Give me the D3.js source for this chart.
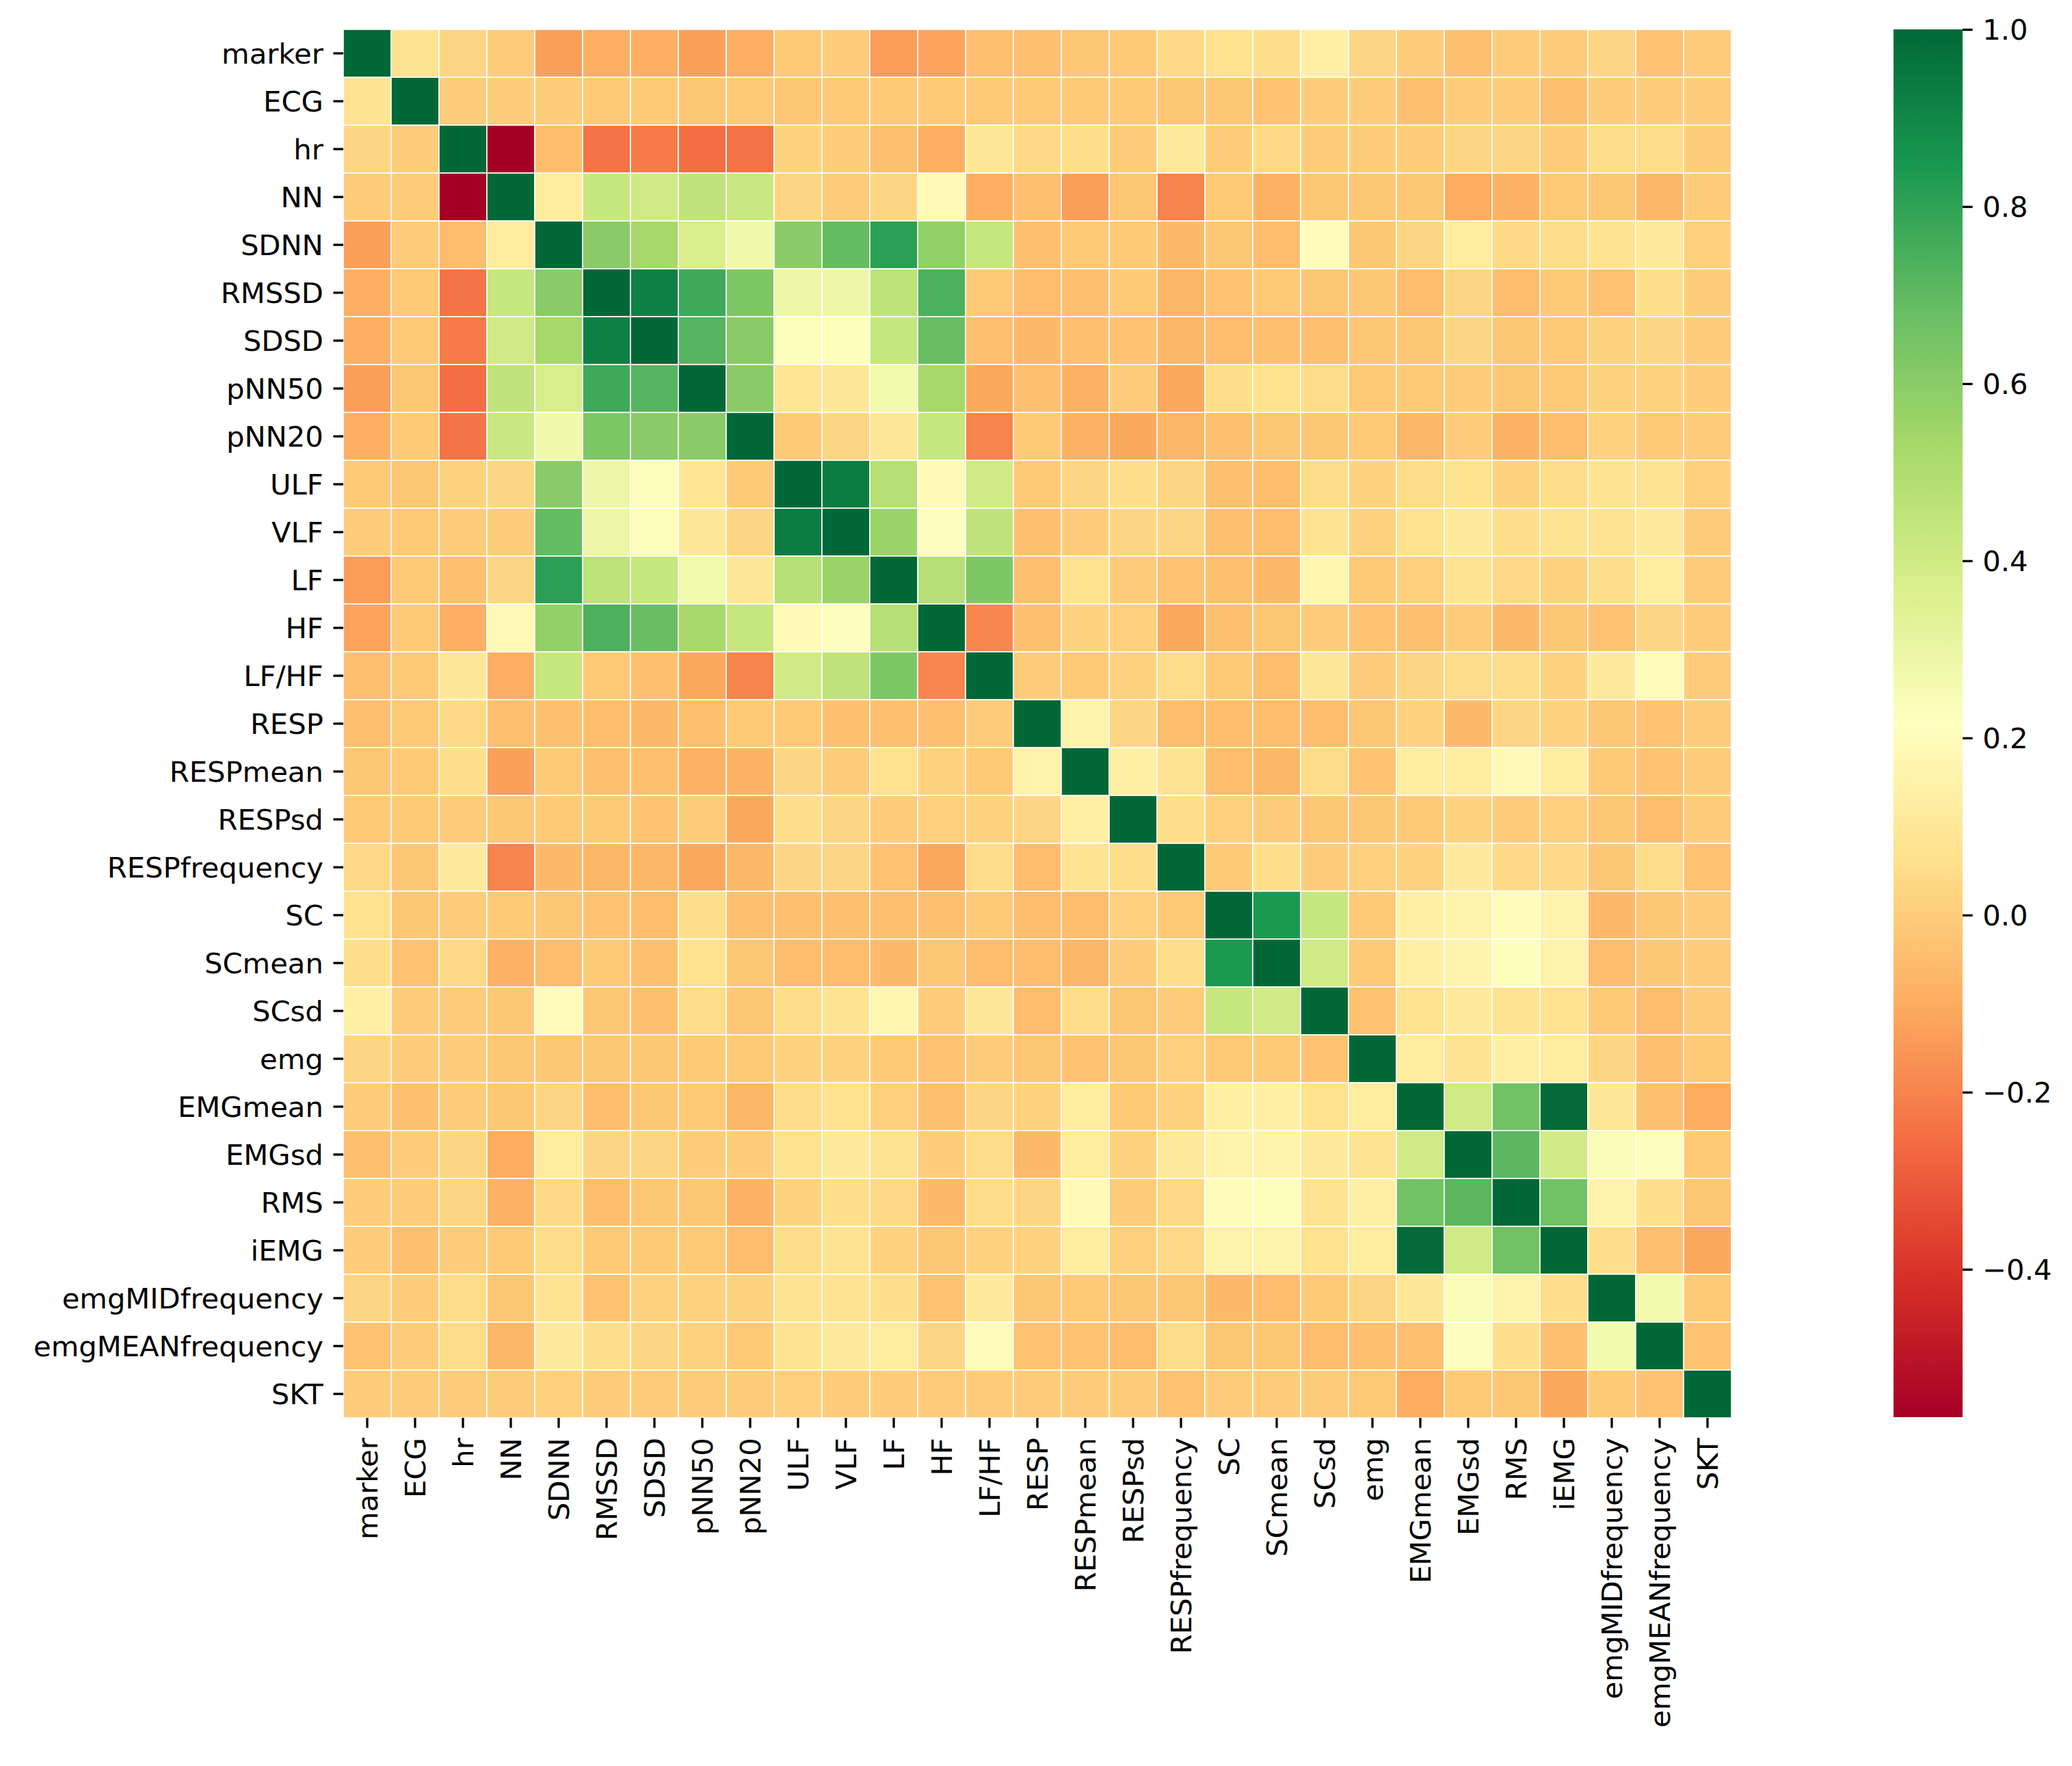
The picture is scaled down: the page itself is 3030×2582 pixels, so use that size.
<!DOCTYPE html>
<html>
<head>
<meta charset="utf-8">
<script src="https://cdn.jsdelivr.net/npm/d3@7"></script>
<style>
  body { margin: 0; background: #fff; }
  svg text { font-family: "DejaVu Sans", sans-serif; }
</style>
</head>
<body>
<div id="chart"></div>
<script>
// variable names, same order on both axes
var labels = ["marker", "ECG", "hr", "NN", "SDNN", "RMSSD", "SDSD", "pNN50", "pNN20",
              "ULF", "VLF", "LF", "HF", "LF/HF", "RESP", "RESPmean", "RESPsd", "RESPfrequency",
              "SC", "SCmean", "SCsd", "emg", "EMGmean", "EMGsd", "RMS", "iEMG",
              "emgMIDfrequency", "emgMEANfrequency", "SKT"];

// upper triangle of the correlation matrix, row i holds columns i+1 .. 28
var upper = [
  [0.08, 0.03, 0.0, -0.13, -0.09, -0.09, -0.13, -0.09, -0.01, 0.0, -0.14, -0.12, -0.04, -0.04, -0.02, -0.01, 0.04, 0.07, 0.06, 0.14, 0.03, 0.0, -0.04, 0.0, 0.0, 0.03, -0.03, 0.0],
  [0.0, 0.0, 0.0, -0.01, -0.01, -0.02, -0.01, -0.02, -0.01, -0.01, -0.01, -0.01, -0.01, -0.01, -0.01, -0.02, -0.02, -0.03, 0.0, 0.0, -0.04, 0.0, 0.0, -0.04, 0.0, 0.0, 0.0],
  [-0.567, -0.05, -0.24, -0.22, -0.25, -0.24, 0.02, 0.0, -0.04, -0.09, 0.10, 0.04, 0.06, 0.0, 0.11, 0.0, 0.04, 0.0, 0.0, 0.0, 0.03, 0.03, 0.0, 0.05, 0.05, 0.0],
  [0.12, 0.43, 0.40, 0.45, 0.42, 0.03, 0.0, 0.03, 0.19, -0.09, -0.04, -0.13, -0.02, -0.20, -0.01, -0.08, -0.02, -0.02, -0.02, -0.10, -0.08, -0.01, -0.02, -0.07, 0.0],
  [0.60, 0.53, 0.38, 0.28, 0.60, 0.69, 0.81, 0.58, 0.43, -0.04, -0.01, -0.01, -0.06, -0.02, -0.05, 0.20, -0.02, 0.03, 0.12, 0.04, 0.05, 0.08, 0.11, 0.01],
  [0.92, 0.77, 0.63, 0.29, 0.29, 0.46, 0.74, -0.01, -0.05, -0.04, -0.01, -0.07, -0.03, -0.01, -0.02, -0.02, -0.05, 0.03, -0.05, -0.01, -0.03, 0.06, 0.0],
  [0.72, 0.60, 0.23, 0.23, 0.43, 0.68, -0.04, -0.06, -0.04, -0.03, -0.07, -0.05, -0.04, -0.04, -0.02, -0.02, 0.03, -0.02, -0.01, 0.02, 0.03, 0.0],
  [0.60, 0.09, 0.10, 0.27, 0.53, -0.11, -0.04, -0.08, 0.0, -0.11, 0.06, 0.07, 0.05, -0.01, -0.01, 0.0, -0.02, -0.01, 0.02, 0.02, 0.0],
  [-0.01, 0.03, 0.10, 0.43, -0.20, -0.01, -0.08, -0.11, -0.07, -0.04, -0.02, -0.02, -0.01, -0.07, 0.0, -0.08, -0.05, 0.02, -0.01, 0.0],
  [0.93, 0.48, 0.19, 0.40, -0.01, 0.03, 0.06, 0.03, -0.04, -0.05, 0.05, 0.02, 0.05, 0.07, 0.02, 0.05, 0.08, 0.08, 0.01],
  [0.56, 0.22, 0.45, -0.04, 0.0, 0.03, 0.03, -0.04, -0.05, 0.08, 0.02, 0.07, 0.11, 0.06, 0.08, 0.08, 0.11, 0.0],
  [0.48, 0.63, -0.04, 0.07, 0.0, -0.03, -0.04, -0.06, 0.17, -0.01, 0.01, 0.08, 0.04, 0.02, 0.06, 0.12, 0.0],
  [-0.19, -0.04, 0.02, 0.01, -0.11, -0.04, -0.02, 0.0, -0.03, -0.04, 0.0, -0.06, -0.02, -0.03, 0.03, 0.0],
  [0.0, -0.01, 0.02, 0.05, -0.01, -0.05, 0.10, 0.0, 0.03, 0.05, 0.05, 0.02, 0.11, 0.20, 0.0],
  [0.15, 0.03, -0.05, -0.05, -0.05, -0.05, -0.02, 0.02, -0.06, 0.03, 0.02, -0.02, -0.03, 0.0],
  [0.14, 0.08, -0.05, -0.07, 0.05, -0.03, 0.12, 0.12, 0.19, 0.12, -0.01, -0.03, 0.0],
  [0.06, 0.01, 0.0, -0.02, -0.02, -0.01, 0.02, 0.0, 0.01, -0.02, -0.05, 0.0],
  [-0.01, 0.06, 0.0, 0.01, 0.02, 0.11, 0.04, 0.04, -0.02, 0.05, -0.03],
  [0.84, 0.43, -0.01, 0.14, 0.15, 0.20, 0.15, -0.06, -0.02, 0.0],
  [0.40, -0.01, 0.14, 0.16, 0.21, 0.15, -0.05, -0.02, 0.0],
  [-0.03, 0.07, 0.11, 0.08, 0.07, -0.01, -0.05, 0.0],
  [0.12, 0.08, 0.14, 0.12, 0.03, -0.04, -0.01],
  [0.40, 0.66, 0.99, 0.10, -0.04, -0.10],
  [0.71, 0.40, 0.24, 0.22, -0.01],
  [0.66, 0.15, 0.06, -0.02],
  [0.06, -0.04, -0.11],
  [0.27, -0.01],
  [-0.03]
];

var cbarTicks = [-0.4, -0.2, 0.0, 0.2, 0.4, 0.6, 0.8, 1.0];

// RdYlGn, 11 colorbrewer stops (as in matplotlib)
var rdylgn = ["#a50026", "#d73027", "#f46d43", "#fdae61", "#fee08b", "#ffffbf",
              "#d9ef8b", "#a6d96a", "#66bd63", "#1a9850", "#006837"];

function init() {
    var W = 3030, H = 2582;
    var left = 502, top = 43, size = 2030;
    var fs = 41.7, tick = 14.6, tickW = 3.3;

    var n = labels.length;
    // full symmetric matrix from the upper triangle
    var cells = [];
    var m = [];
    for (var i = 0; i < n; i++) { m.push([]); }
    for (var i = 0; i < n; i++) {
        m[i][i] = 1;
        for (var j = i + 1; j < n; j++) {
            m[i][j] = upper[i][j - i - 1];
            m[j][i] = upper[i][j - i - 1];
        }
    }
    for (var i = 0; i < n; i++) {
        for (var j = 0; j < n; j++) {
            cells.push({ row: labels[i], col: labels[j], v: m[i][j] });
        }
    }

    var vmin = d3.min(cells, function(d) { return d.v; });
    var vmax = d3.max(cells, function(d) { return d.v; });

    var color = d3.scaleLinear()
                  .domain(d3.range(rdylgn.length).map(function(k) {
                      return vmin + k * (vmax - vmin) / (rdylgn.length - 1);
                  }))
                  .range(rdylgn)
                  .interpolate(d3.interpolateRgb)
                  .clamp(true);

    var xScale = d3.scaleBand().domain(labels).range([left, left + size]);
    var yScale = d3.scaleBand().domain(labels).range([top, top + size]);

    var svg = d3.select("#chart")
                .append("svg")
                .attr("width", W)
                .attr("height", H);

    svg.append("rect").attr("width", W).attr("height", H).attr("fill", "#fff");

    svg.append("g")
       .selectAll("rect")
       .data(cells)
       .enter()
       .append("rect")
       .attr("x", function(d) { return xScale(d.col); })
       .attr("y", function(d) { return yScale(d.row); })
       .attr("width", xScale.bandwidth())
       .attr("height", yScale.bandwidth())
       .attr("fill", function(d) { return color(d.v); })
       .attr("stroke", "#fff")
       .attr("stroke-width", 1.6);

    // y axis
    var gy = svg.append("g")
                .attr("transform", "translate(" + left + ",0)")
                .call(d3.axisLeft(yScale).tickSize(tick).tickPadding(tick).tickSizeOuter(0));
    gy.select(".domain").remove();
    gy.selectAll(".tick line").attr("stroke", "#000").attr("stroke-width", tickW);
    gy.selectAll(".tick text").attr("fill", "#000").style("font-size", fs + "px")
      .attr("dy", "0.35em");

    // x axis, labels rotated
    var gx = svg.append("g")
                .attr("transform", "translate(0," + (top + size) + ")")
                .call(d3.axisBottom(xScale).tickSize(tick).tickPadding(tick).tickSizeOuter(0));
    gx.select(".domain").remove();
    gx.selectAll(".tick line").attr("stroke", "#000").attr("stroke-width", tickW);
    gx.selectAll(".tick text")
      .attr("fill", "#000")
      .style("font-size", fs + "px")
      .attr("y", 0)
      .attr("x", -(tick * 2))
      .attr("dy", "0.35em")
      .attr("transform", "rotate(-90)")
      .style("text-anchor", "end");

    // colorbar
    var cbX = 2769, cbW = 101, cbTop = 43, cbBottom = 2072;
    var defs = svg.append("defs");
    var grad = defs.append("linearGradient")
                   .attr("id", "cbgrad")
                   .attr("x1", "0").attr("y1", "1")
                   .attr("x2", "0").attr("y2", "0");
    grad.selectAll("stop")
        .data(rdylgn)
        .enter()
        .append("stop")
        .attr("offset", function(d, i) { return i / (rdylgn.length - 1); })
        .attr("stop-color", function(d) { return d; });

    svg.append("rect")
       .attr("x", cbX)
       .attr("y", cbTop)
       .attr("width", cbW)
       .attr("height", cbBottom - cbTop)
       .attr("fill", "url(#cbgrad)");

    var cScale = d3.scaleLinear().domain([vmin, vmax]).range([cbBottom, cbTop]);
    var gc = svg.append("g")
                .attr("transform", "translate(" + (cbX + cbW) + ",0)")
                .call(d3.axisRight(cScale).tickValues(cbarTicks)
                        .tickFormat(d3.format(".1f"))
                        .tickSize(tick).tickPadding(tick).tickSizeOuter(0));
    gc.select(".domain").remove();
    gc.selectAll(".tick line").attr("stroke", "#000").attr("stroke-width", tickW);
    gc.selectAll(".tick text").attr("fill", "#000").style("font-size", fs + "px")
      .attr("dy", "0.35em");
}

window.onload = init;
</script>
</body>
</html>
